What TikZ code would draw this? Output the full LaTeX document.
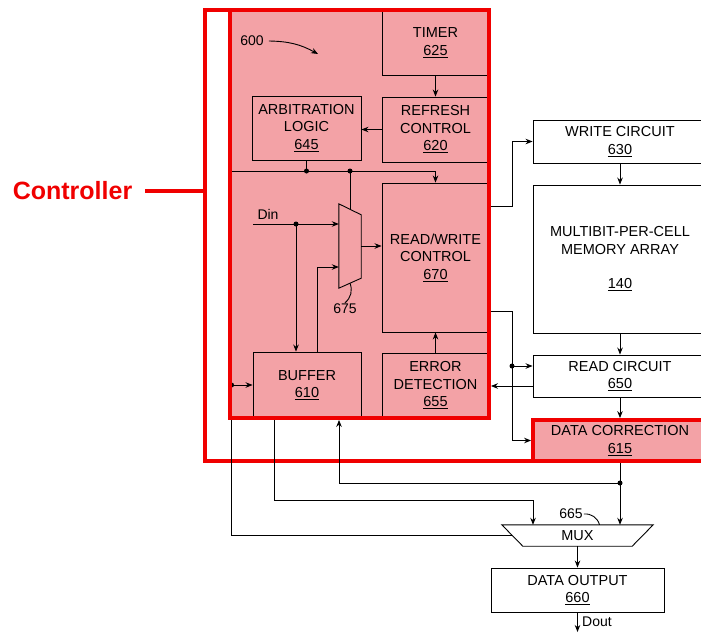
\documentclass[tikz,border=0pt]{standalone}
\usepackage{fontspec}
\setmainfont{Liberation Sans}
\usepackage{tikz}
\usetikzlibrary{arrows.meta, positioning}
\definecolor{ctrlPink}{RGB}{243,162,166}
\definecolor{ctrlRed}{RGB}{240,0,0}

\begin{document}
\begin{tikzpicture}[x=1pt, y=-1pt,
    blk/.style={draw=black, line width=0.9pt, align=center, inner sep=2pt,
      font=\fontsize{14.5}{17.5}\selectfont},
    hot/.style={blk, fill=ctrlPink, draw=ctrlRed, line width=3.8pt},
    lbl/.style={font=\fontsize{14}{17}\selectfont, inner sep=1pt},
    wire/.style={line width=0.9pt},
    arr/.style={wire, -{Stealth[length=7pt,width=5.5pt]}},
    redline/.style={draw=ctrlRed, line width=3.8pt},
    dot/.style={circle, fill=black, inner sep=0pt, minimum size=5pt}
  ]
    \useasboundingbox (0,0) rectangle (701,632);
    % controller region
    \node[fill=ctrlPink, minimum width=259, minimum height=408, inner sep=0pt] (core) at (359.5,214) {};
    \draw[redline] (710,461) -- (205,461) -- (205,10) -- (489,10);
    \node[font=\fontsize{25}{30}\selectfont\bfseries, text=ctrlRed, inner sep=0pt] (ctrlLbl) at (72.5,191) {Controller};
    \coordinate (outerW) at (205,0);
    \draw[redline] ([xshift=13pt]ctrlLbl.east) -- (ctrlLbl.east -| outerW);
    % blocks
    \node[blk, minimum width=107, minimum height=65] (timer) at (435.5,42.5) {TIMER\\\underline{625}};
    \node[blk, minimum width=107, minimum height=65] (refresh) at (435.5,129.5) {REFRESH\\CONTROL\\\underline{620}};
    \node[blk, minimum width=109, minimum height=64] (arb) at (306.5,128) {ARBITRATION\\LOGIC\\\underline{645}};
    \node[blk, minimum width=107, minimum height=149] (rw) at (435.5,257.5) {READ/WRITE\\CONTROL\\\underline{670}};
    \node[blk, minimum width=108, minimum height=66] (buf) at (307,385) {BUFFER\\\underline{610}};
    \node[blk, minimum width=107, minimum height=65] (err) at (435.5,385.5) {ERROR\\DETECTION\\\underline{655}};
    \node[minimum width=22, minimum height=84, inner sep=0pt] (m675) at (350,246) {};
    \draw[wire] (m675.north west) -- ([yshift=-11pt]m675.north east) -- ([yshift=10pt]m675.south east) -- (m675.south west) -- cycle;
    \node[blk, minimum width=174, minimum height=43] (wr) at (620,141.5) {WRITE CIRCUIT\\\underline{630}};
    \node[blk, minimum width=174, minimum height=148] (mem) at (620,259) {MULTIBIT-PER-CELL\\MEMORY ARRAY\\[17pt]\underline{140}};
    \node[blk, minimum width=174, minimum height=42] (rd) at (620,376) {READ CIRCUIT\\\underline{650}};
    \node[hot, minimum width=174, minimum height=41] (dc) at (620,440.5) {DATA CORRECTION\\\underline{615}};
    \node[minimum width=151, minimum height=21, inner sep=0pt, font=\fontsize{14.5}{17}\selectfont] (mux) at (577.5,535.5) {MUX};
    \draw[wire] (mux.north west) -- (mux.north east) -- ([xshift=-21pt]mux.south east) -- ([xshift=21pt]mux.south west) -- cycle;
    \node[blk, minimum width=173, minimum height=44] (out) at (577.5,590) {DATA OUTPUT\\\underline{660}};
    % labels
    \node[lbl] (lbl600) at (252,41) {600};
    \coordinate (p600) at (318,54);
    \draw[arr] ([xshift=4pt]lbl600.east) to[bend left=14] (p600);
    \node[lbl] (lbl675) at (345,309) {675};
    \draw[wire] (lbl675.north) to[bend right=35] ([yshift=5pt]m675.south);
    \node[lbl] (lbl665) at (571,514) {665};
    \draw[wire] (lbl665.east) to[bend left=40] ([xshift=22pt]mux.north);
    \node[lbl] (din) at (268,214) {Din};
    % connections inside the controller
    \draw[arr] (timer) -- (refresh);
    \draw[arr] (refresh.west) -- (refresh.west -| arb.east);
    \coordinate (busL) at (230,171);
    \draw[arr] (busL) -| (rw.north);
    \node[dot] (dotArb) at (arb.south |- busL) {};
    \draw[wire] (arb.south) -- (dotArb.center);
    \node[dot] (dotMux) at (m675 |- busL) {};
    \draw[wire] (dotMux.center) -- ([yshift=-5.5pt]m675.north);
    \coordinate (dinS) at (253,224);
    \draw[arr] (dinS) -- (dinS -| m675.west);
    \node[dot] (dotDin) at (296,224) {};
    \draw[arr] (dotDin.center) -- (dotDin |- buf.north);
    \draw[arr] ([xshift=10pt]buf.north) |- ([yshift=-21pt]m675.west);
    \draw[arr] (m675.east) -- (m675.east -| rw.west);
    \draw[arr] (err) -- (rw);
    % connections to the memory side
    \draw[arr] ([yshift=51.5pt]rw.east) -- ++(23,0) |- (wr.west);
    \draw[arr] ([yshift=-53.5pt]rw.east) -- ++(23,0) |- (dc.west);
    \node[dot] (dotTap) at (512,366) {};
    \draw[arr] (dotTap.center) -- (dotTap -| rd.west);
    \draw[arr, shorten >=1.5pt] ([yshift=-10pt]rd.west) -- ([yshift=-10pt]rd.west -| err.east);
    \draw[arr] (wr) -- (mem);
    \draw[arr] (mem) -- (rd);
    \draw[arr] (rd) -- (dc);
    % output side
    \coordinate (fbRow) at (0,483);
    \node[dot] (dotFb) at (dc.south |- fbRow) {};
    \draw[arr] (dc.south) -- (dc.south |- mux.north);
    \draw[arr, shorten >=1.5pt] (dotFb.center) -| ([xshift=32pt]buf.south);
    \draw[arr] ([xshift=-33pt]buf.south) -- ++(0,82) -| ([xshift=-44.5pt]mux.north);
    \node[dot] (dotBuf) at ([xshift=-21pt]buf.west) {};
    \draw[arr] ([xshift=10.5pt]mux.west) -| (dotBuf.center) -- (buf.west);
    \draw[arr] (mux.south) -- (out.north);
    \coordinate (doutEnd) at (577.5,632);
    \draw[arr] (out.south) -- (doutEnd);
    \node[lbl, anchor=west] (dout) at (581,622) {Dout};
    % controller border on top
    \draw[redline] (core.north west) rectangle (core.south east);
  \end{tikzpicture}
\end{document}
